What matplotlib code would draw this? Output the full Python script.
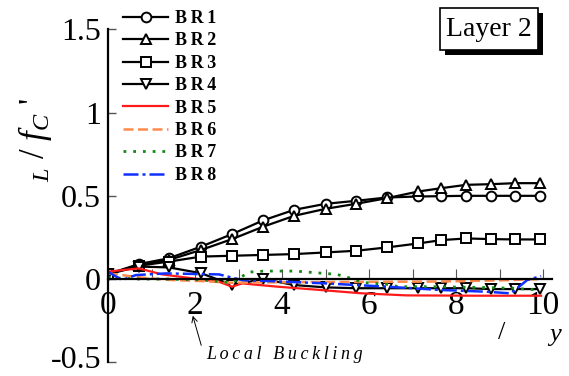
import matplotlib
matplotlib.use('Agg')
import matplotlib.pyplot as plt
import matplotlib.patheffects as pe
import matplotlib.transforms as mtransforms
from matplotlib.patches import Rectangle
from matplotlib.ticker import MultipleLocator

plt.rcParams['font.family'] = ['Liberation Serif', 'DejaVu Serif']
plt.rcParams['mathtext.fontset'] = 'custom'
plt.rcParams['mathtext.rm'] = 'Liberation Serif'
plt.rcParams['mathtext.it'] = 'Liberation Serif:italic'

# drift steps shared by the marker series
x_mark = [0, 0.71, 1.4, 2.14, 2.85, 3.57, 4.28, 5.0, 5.7, 6.41, 7.13, 7.66, 8.23, 8.8, 9.36, 9.93]
br1 = [0.03, 0.09, 0.125, 0.195, 0.27, 0.353, 0.416, 0.452, 0.47, 0.49, 0.496, 0.498, 0.5, 0.5, 0.5, 0.5]
br2 = [0.03, 0.085, 0.115, 0.175, 0.24, 0.315, 0.38, 0.422, 0.452, 0.486, 0.526, 0.546, 0.566, 0.57, 0.576, 0.576]
br3 = [0.03, 0.08, 0.105, 0.135, 0.14, 0.145, 0.15, 0.16, 0.17, 0.19, 0.214, 0.234, 0.244, 0.24, 0.238, 0.238]
br4 = [0.03, 0.075, 0.07, 0.035, -0.035, 0.0, -0.036, -0.05, -0.055, -0.055, -0.055, -0.055, -0.055, -0.06, -0.06, -0.06]

x_br5 = [0, 0.71, 1.24, 2.55, 2.85, 3.08, 3.86, 4.85, 5.8, 6.85, 8.5, 9.95]
br5 = [0.045, 0.064, 0.028, -0.016, -0.046, -0.026, -0.045, -0.065, -0.085, -0.098, -0.1, -0.1]

x_br6 = [0, 0.32, 0.71, 1.4, 2.14, 2.85, 3.5, 5.0, 7.6, 9.0, 9.95]
br6 = [0.035, 0.024, 0.01, -0.005, -0.012, -0.022, -0.02, -0.018, -0.015, -0.008, 0.0]

x_br7 = [0, 0.7, 1.4, 2.14, 2.85, 3.24, 3.6, 4.3, 4.97, 5.26, 5.59, 5.84, 6.11, 6.41, 6.69, 7.31, 7.54, 8.5, 9.3, 9.93]
br7 = [0.01, 0.0, 0.0, -0.005, -0.022, 0.042, 0.048, 0.048, 0.034, 0.028, 0.004, -0.02, -0.026, -0.032, -0.046, -0.046, -0.046, -0.05, -0.055, -0.066]

x_br8 = [0, 0.32, 0.64, 1.33, 2.55, 3.08, 4.0, 5.0, 6.0, 7.0, 7.6, 8.7, 9.26, 9.63, 9.95]
br8 = [0.044, -0.006, 0.024, 0.034, 0.028, -0.006, -0.015, -0.026, -0.04, -0.055, -0.065, -0.076, -0.086, -0.006, 0.018]

labels = ['BR1', 'BR2', 'BR3', 'BR4', 'BR5', 'BR6', 'BR7', 'BR8']
xticks = [0, 2, 4, 6, 8, 10]
yticks = [-0.5, 0, 0.5, 1, 1.5]


def spaced(s):
    # the original text is letter-spaced
    return '\u2009'.join(s)


fig = plt.figure(figsize=(5.69, 3.76), dpi=100)
ax = fig.add_axes([0.1898, 0.0364, 0.7802, 0.8856])

mk = dict(color='black', lw=1.6, ms=7, mfc='white', mec='black', mew=1.4)
ax.plot(x_mark, br1, marker='o', label=spaced(labels[0]), **mk)
ax.plot(x_mark, br2, marker='^', label=spaced(labels[1]), **mk)
ax.plot(x_mark, br3, marker='s', label=spaced(labels[2]), **mk)
ax.plot(x_mark, br4, marker='v', label=spaced(labels[3]), **mk)
ax.plot(x_br5, br5, color='#ff1a1a', lw=1.6, label=spaced(labels[4]))
ax.plot(x_br6, br6, color='#ff8a4c', lw=1.8, dashes=(4, 1.8), label=spaced(labels[5]))
ax.plot(x_br7, br7, color='#158a15', lw=2.0, dashes=(1, 2.5), label=spaced(labels[6]))
ax.plot(x_br8, br8, color='#1030ff', lw=1.8, dashes=(6, 1.6, 1.2, 1.6), label=spaced(labels[7]))

ax.set_xlim(0, 10.2)
ax.set_ylim(-0.5, 1.5)
ax.spines['top'].set_visible(False)
ax.spines['right'].set_visible(False)
ax.spines['bottom'].set_position(('data', 0))
ax.spines['left'].set_linewidth(1.6)
ax.spines['bottom'].set_linewidth(1.6)

ax.xaxis.set_minor_locator(MultipleLocator(1))
ax.set_xticks(xticks)
ax.set_xticklabels([str(v) for v in xticks])
ax.set_yticks(yticks)
ax.set_yticklabels(['-0.5', '0', '0.5', '1', '1.5'])
ax.tick_params(axis='x', which='both', direction='in', length=7, width=0.8,
               color='#555555', labelsize=24, pad=8)
ax.tick_params(axis='y', direction='in', length=6, width=1, color='#555555',
               labelsize=23, pad=5)

# lift the bottom tick label a little so it stays inside the canvas
lift = mtransforms.ScaledTranslation(0, 4 / 72, fig.dpi_scale_trans)
bottom_label = ax.get_yticklabels()[0]
bottom_label.set_transform(bottom_label.get_transform() + lift)

ax.legend(loc='upper left', bbox_to_anchor=(123 / 569, 1 - 10 / 376),
          bbox_transform=fig.transFigure, frameon=False, borderpad=0,
          borderaxespad=0, handlelength=2.5, handletextpad=0.4,
          labelspacing=0.3, prop={'weight': 'bold', 'size': 13})

# "Layer 2" tag with drop shadow
tag = Rectangle((440 / 569, 1 - 50 / 376), 98 / 569, 42 / 376,
                transform=fig.transFigure, fc='white', ec='black', lw=1.2)
tag.set_path_effects([
    pe.SimplePatchShadow(offset=(3.5, -3.5), shadow_rgbFace='black', alpha=1),
    pe.Normal()])
fig.add_artist(tag)
fig.text(489 / 569, 1 - 30 / 376, 'Layer 2', fontsize=20, ha='center', va='center')

ax.annotate('', xy=(1.93, -0.204), xytext=(2.16, -0.414),
            arrowprops=dict(arrowstyle='->', lw=0.7, color='black'))
ax.text(2.25, -0.456, spaced('Local Buckling'), fontsize=13, style='italic',
        ha='left', va='center')

fig.text(35 / 569, 1 - 140 / 376, r"$_{L}$ / $f_{C}$ '", rotation=90,
         fontsize=25, ha='center', va='center')
fig.text(502 / 569, 1 - 333 / 376, '/', fontsize=19, ha='center', va='center')
fig.text(555 / 569, 1 - 335 / 376, 'y', fontsize=19, style='italic',
         ha='center', va='center')

fig.savefig('out.png', dpi=100)
